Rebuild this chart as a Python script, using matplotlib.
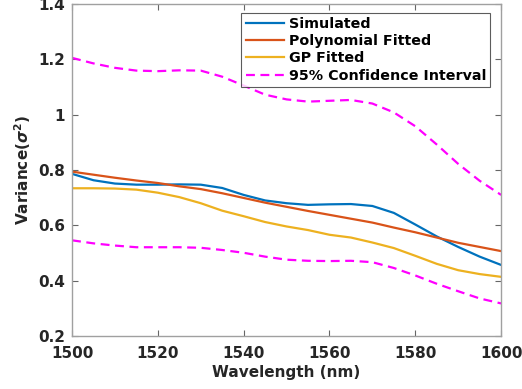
import matplotlib
matplotlib.use("Agg")
import matplotlib.pyplot as plt

# wavelength grid (nm)
wavelength = [1500, 1505, 1510, 1515, 1520, 1525, 1530, 1535, 1540, 1545, 1550,
              1555, 1560, 1565, 1570, 1575, 1580, 1585, 1590, 1595, 1600]

simulated = [0.786, 0.763, 0.751, 0.747, 0.747, 0.748, 0.747, 0.735, 0.710, 0.690, 0.680,
             0.674, 0.676, 0.677, 0.670, 0.645, 0.603, 0.560, 0.522, 0.487, 0.457]
poly_fit = [0.794, 0.783, 0.772, 0.762, 0.753, 0.741, 0.731, 0.716, 0.699, 0.682, 0.667,
            0.652, 0.638, 0.624, 0.610, 0.592, 0.575, 0.556, 0.537, 0.522, 0.507]
gp_fit = [0.734, 0.734, 0.733, 0.729, 0.718, 0.702, 0.680, 0.653, 0.633, 0.612, 0.596,
          0.583, 0.566, 0.556, 0.538, 0.518, 0.490, 0.461, 0.438, 0.424, 0.414]
ci_upper = [1.205, 1.185, 1.169, 1.159, 1.157, 1.160, 1.159, 1.137, 1.105, 1.072, 1.055,
            1.047, 1.050, 1.053, 1.040, 1.008, 0.958, 0.892, 0.822, 0.761, 0.710]
ci_lower = [0.546, 0.535, 0.527, 0.521, 0.521, 0.521, 0.519, 0.511, 0.501, 0.487, 0.476,
            0.472, 0.471, 0.472, 0.467, 0.446, 0.419, 0.389, 0.362, 0.336, 0.318]

x_ticks = [1500, 1520, 1540, 1560, 1580, 1600]
y_ticks = [0.2, 0.4, 0.6, 0.8, 1.0, 1.2, 1.4]
y_tick_labels = ["0.2", "0.4", "0.6", "0.8", "1", "1.2", "1.4"]

plt.rcParams["font.family"] = ["DejaVu Sans"]
plt.rcParams["font.weight"] = "bold"

fig = plt.figure(figsize=(5.22, 3.89), dpi=100)
ax = fig.add_axes([0.138, 0.136, 0.822, 0.854])

lw = 1.6
ax.plot(wavelength, simulated, color="#0072BD", lw=lw, label="Simulated")
ax.plot(wavelength, poly_fit, color="#D95319", lw=lw, label="Polynomial Fitted")
ax.plot(wavelength, gp_fit, color="#EDB120", lw=lw, label="GP Fitted")
ax.plot(wavelength, ci_upper, color="#FF00FF", lw=lw, ls=(0, (4, 2.5)),
        label="95% Confidence Interval")
ax.plot(wavelength, ci_lower, color="#FF00FF", lw=lw, ls=(0, (4, 2.5)))

ax.set_xlim(1500, 1600)
ax.set_ylim(0.2, 1.4)
ax.set_xticks(x_ticks)
ax.set_yticks(y_ticks)
ax.set_yticklabels(y_tick_labels)
ax.tick_params(direction="in", top=True, right=True, length=4, width=0.8,
               color="#666666", labelsize=11, labelcolor="#262626")
ax.tick_params(axis="x", pad=7)
ax.tick_params(axis="y", pad=5)
for lab in ax.get_xticklabels() + ax.get_yticklabels():
    lab.set_fontweight("bold")
for sp in ax.spines.values():
    sp.set_color("#a0a0a0")
    sp.set_linewidth(1.0)

ax.set_xlabel("Wavelength (nm)", fontsize=11, fontweight="bold", color="#262626", labelpad=3)
ax.set_ylabel(r"Variance($\sigma^2$)", fontsize=11, fontweight="bold", color="#262626", labelpad=4)

leg = ax.legend(loc="upper right", bbox_to_anchor=(0.975, 0.973), fontsize=10.3,
                frameon=True, fancybox=False, handlelength=2.7, handletextpad=0.3,
                labelspacing=0.22, borderpad=0.3, borderaxespad=0)
leg.get_frame().set_edgecolor("#333333")
leg.get_frame().set_linewidth(0.8)
for t in leg.get_texts():
    t.set_fontweight("bold")
    t.set_color("#000000")

fig.savefig("out.png", dpi=100)
